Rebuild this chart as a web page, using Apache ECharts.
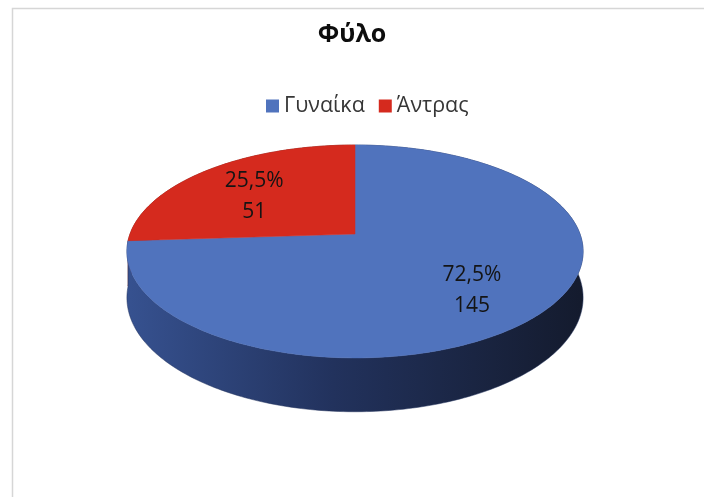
<!DOCTYPE html>
<html>
<head>
<meta charset="utf-8">
<script src="https://cdn.jsdelivr.net/npm/echarts@6/dist/echarts.min.js"></script>
<style>
  html, body { margin: 0; padding: 0; background: #fff; }
  #chart { width: 704px; height: 497px; }
</style>
</head>
<body>
<div id="chart"></div>
<script>
// Survey answers by gender
const categories = ['Γυναίκα', 'Άντρας'];
const counts = [145, 51];
const shares = ['72,5%', '25,5%'];
const topColors = ['#5073bd', '#d52a1e'];
const sideColors = [
  ['#36518f', '#22325d', '#141b2e'],
  ['#8a1a12', '#6a140e', '#4a0e0a']
];

const total = counts.reduce((a, b) => a + b, 0);
// slice start angles, clockwise from 12 o'clock
const starts = [];
(function () {
  let acc = 0;
  counts.forEach(c => { starts.push(acc / total * Math.PI * 2); acc += c; });
})();

// tilted disc: centre, half axes, perspective factor and thickness
const disc = { cx: 355, cy: 234, rx: 225, ry: 103.6, k: -0.164, depth: 45 };

function project(phi, r, drop) {
  const u = r * Math.sin(phi);
  const v = -r * Math.cos(phi);
  const d = 1 + disc.k * v;
  return [disc.cx + disc.rx * u / d, disc.cy + (disc.ry * v + drop) / d];
}

function arc(a0, a1, r, drop) {
  const pts = [];
  const n = Math.max(2, Math.ceil((a1 - a0) / (Math.PI / 180)));
  for (let i = 0; i <= n; i++) pts.push(project(a0 + (a1 - a0) * i / n, r, drop));
  return pts;
}

function sliceAngles(i, value) {
  const a0 = starts[i];
  return [a0, a0 + value / total * Math.PI * 2];
}

// outer wall of the disc, drawn beneath the top faces;
// earlier slices are stacked above later ones so the front wall wins
const sideSeries = {
  type: 'custom',
  name: 'wall',
  coordinateSystem: 'none',
  z: 1,
  silent: true,
  data: counts.map(c => [c]),
  renderItem: function (params, api) {
    const i = params.dataIndex;
    const [a0, a1] = sliceAngles(i, api.value(0));
    const top = arc(a0, a1, 1, 0);
    const bottom = arc(a0, a1, 1, disc.depth).reverse();
    const cs = sideColors[i];
    return {
      type: 'polygon',
      z2: counts.length - i,
      shape: { points: top.concat(bottom) },
      style: {
        fill: {
          type: 'linear', global: true,
          x: disc.cx - disc.rx, y: 0, x2: disc.cx + disc.rx, y2: 0,
          colorStops: [
            { offset: 0, color: cs[0] },
            { offset: 0.45, color: cs[1] },
            { offset: 1, color: cs[2] }
          ]
        },
        stroke: cs[1],
        lineWidth: 0.5
      }
    };
  }
};

// top face and label of one slice
function topSeries(i) {
  return {
    type: 'custom',
    name: categories[i],
    coordinateSystem: 'none',
    z: 2,
    itemStyle: { color: topColors[i] },
    data: [[counts[i]]],
    renderItem: function (params, api) {
      const value = api.value(0);
      const [a0, a1] = sliceAngles(i, value);
      const pts = [project(0, 0, 0)].concat(arc(a0, a1, 1, 0));
      const mid = (a0 + a1) / 2;
      const lp = project(mid, 0.66, 6);
      return {
        type: 'group',
        children: [
          {
            type: 'polygon',
            shape: { points: pts },
            style: { fill: topColors[i], stroke: topColors[i], lineWidth: 0.5 }
          },
          {
            type: 'text',
            z2: 10,
            style: {
              x: lp[0], y: lp[1],
              text: shares[i] + '\n' + value,
              align: 'center', verticalAlign: 'middle',
              font: '21px "Open Sans"',
              lineHeight: 31,
              fill: '#141414'
            }
          }
        ]
      };
    }
  };
}

const chart = echarts.init(document.getElementById('chart'), null, { renderer: 'canvas' });
chart.setOption({
  backgroundColor: '#ffffff',
  animation: false,
  title: {
    text: 'Φύλο',
    left: 'center',
    top: 17,
    textStyle: { fontFamily: 'Open Sans', fontWeight: 'bold', fontSize: 25, color: '#0d0d0d' }
  },
  legend: {
    data: categories,
    left: 261,
    top: 90,
    itemWidth: 13,
    itemHeight: 13,
    itemGap: 14,
    icon: 'rect',
    textStyle: { fontFamily: 'Open Sans', fontSize: 21.5, color: '#363636' }
  },
  graphic: [{
    type: 'rect',
    shape: { x: 12.5, y: 8.5, width: 720, height: 520 },
    style: { fill: 'none', stroke: '#d6d6d6', lineWidth: 1.5 },
    silent: true
  }],
  series: [sideSeries].concat(categories.map((c, i) => topSeries(i)))
});
</script>
</body>
</html>
